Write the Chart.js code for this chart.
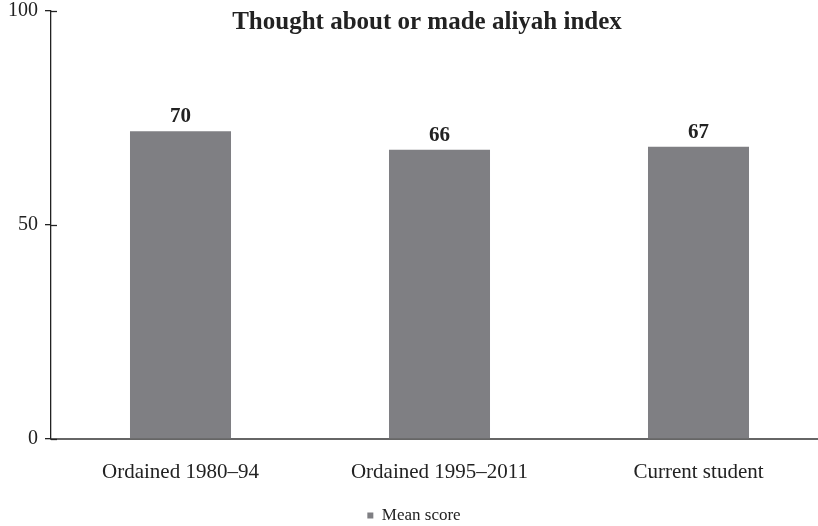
<!DOCTYPE html>
<html>
<head>
<meta charset="utf-8">
<script src="https://cdn.jsdelivr.net/npm/chart.js@4"></script>
<style>
  html, body { margin: 0; padding: 0; background: #fff; overflow: hidden; }
  #wrap { width: 818px; height: 526px; overflow: hidden; }
</style>
</head>
<body>
<div id="wrap"><canvas id="chart" width="830" height="534"></canvas></div>
<script>
const categories = ["Ordained 1980\u201394", "Ordained 1995\u20132011", "Current student"];
const meanScore = [71.9, 67.6, 68.3];
const printedLabels = ["70", "66", "67"];
const yTicks = [0, 50, 100];
const chartTitle = "Thought about or made aliyah index";

const serif = "'Liberation Serif', 'DejaVu Serif', serif";

// title + labels above bars
const extras = {
  id: "extras",
  afterDraw(chart) {
    const ctx = chart.ctx;
    ctx.save();
    ctx.fillStyle = "#222";
    ctx.textAlign = "center";
    ctx.textBaseline = "middle";
    ctx.font = "bold 25px " + serif;
    ctx.fillText(chartTitle, 427, 23);

    const meta = chart.getDatasetMeta(0);
    ctx.font = "bold 21px " + serif;
    ctx.textBaseline = "alphabetic";
    meta.data.forEach((bar, i) => {
      ctx.fillText(printedLabels[i], bar.x, bar.y - 9);
    });

    // inner half of the y tick marks
    const y = chart.scales.y;
    ctx.strokeStyle = "#222";
    ctx.lineWidth = 1.3;
    yTicks.forEach(t => {
      const py = Math.round(y.getPixelForValue(t)) + 0.5;
      ctx.beginPath();
      ctx.moveTo(y.right, py);
      ctx.lineTo(y.right + 6, py);
      ctx.stroke();
    });
    ctx.restore();
  }
};

new Chart(document.getElementById("chart"), {
  type: "bar",
  data: {
    labels: categories,
    datasets: [{
      label: "Mean score",
      data: meanScore,
      backgroundColor: "#7f7f83",
      borderWidth: 0,
      barPercentage: 0.39,
      categoryPercentage: 1
    }]
  },
  options: {
    responsive: false,
    animation: false,
    layout: { padding: { top: 11, right: 2, left: 0, bottom: 0 } },
    plugins: {
      title: { display: false },
      tooltip: { enabled: false },
      legend: {
        position: "bottom",
        labels: {
          boxWidth: 6,
          boxHeight: 6,
          padding: 4,
          color: "#222",
          font: { family: serif, size: 17 }
        }
      }
    },
    scales: {
      x: {
        grid: { display: false },
        border: { color: "#666", width: 2 },
        ticks: { color: "#222", padding: 13, font: { family: serif, size: 21 } },
        afterFit(scale) { scale.height = 64; }
      },
      y: {
        min: 0,
        max: 100,
        afterBuildTicks(scale) { scale.ticks = yTicks.map(v => ({ value: v })); },
        grid: { drawOnChartArea: false, tickLength: 6, tickColor: "#222", lineWidth: 1.3 },
        border: { color: "#222", width: 1.3 },
        ticks: { color: "#222", padding: 7, font: { family: serif, size: 20 } },
        afterFit(scale) {
          scale.width = 51;
          scale.paddingTop = 0;
          scale.paddingBottom = 0;
        }
      }
    }
  },
  plugins: [extras]
});
</script>
</body>
</html>
